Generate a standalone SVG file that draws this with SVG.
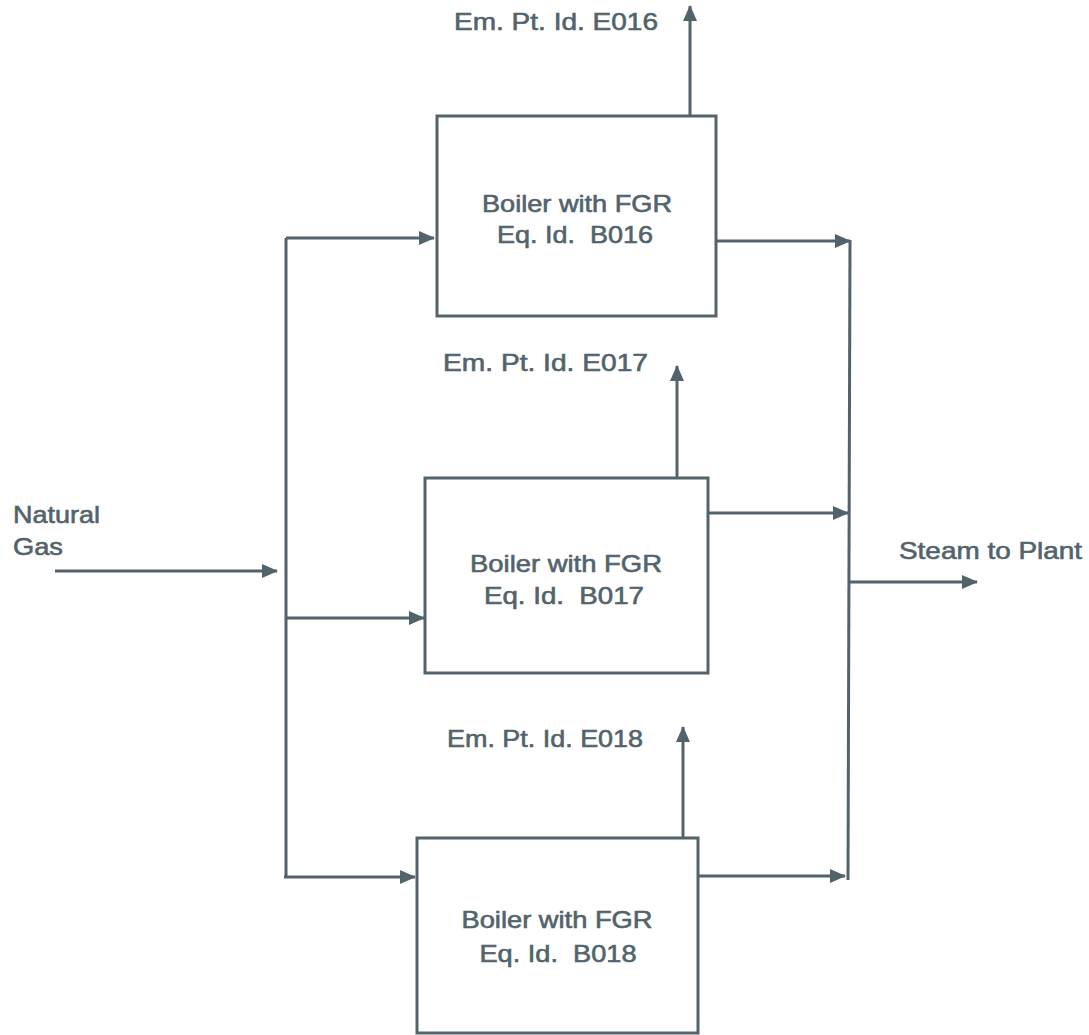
<svg xmlns="http://www.w3.org/2000/svg" width="1089" height="1035" viewBox="0 0 1089 1035">
<defs>
<marker id="ah" viewBox="0 0 16 14" refX="15" refY="7" markerWidth="16" markerHeight="14" markerUnits="userSpaceOnUse" orient="auto">
<path d="M0,0 L16,7 L0,14 Z" fill="#52636b"/>
</marker>
<style>
.box{fill:#fff;stroke:#52636b;stroke-width:3}
.ln{fill:none;stroke:#52636b;stroke-width:3}
.ar{fill:none;stroke:#52636b;stroke-width:3;marker-end:url(#ah)}
text{font-family:"Liberation Sans",Arial,sans-serif;font-size:24px;fill:#52636b;stroke:#52636b;stroke-width:0.6}
.c{text-anchor:middle}
</style>
</defs>
<rect width="1089" height="1035" fill="#fff"/>
<g id="connectors">
<line class="ar" x1="55" y1="571" x2="277" y2="571"/>
<line class="ln" x1="286" y1="238" x2="286" y2="877"/>
<line class="ar" x1="286" y1="238" x2="434" y2="238"/>
<line class="ar" x1="286" y1="618" x2="424" y2="618"/>
<line class="ar" x1="284" y1="877" x2="415" y2="877"/>
<line class="ln" x1="850" y1="240" x2="848" y2="880"/>
<line class="ar" x1="713" y1="241" x2="850" y2="241"/>
<line class="ar" x1="707" y1="513" x2="848" y2="513"/>
<line class="ar" x1="698" y1="876" x2="845" y2="876"/>
<line class="ar" x1="849" y1="582" x2="977" y2="582"/>
<line class="ar" x1="690" y1="115" x2="690" y2="6"/>
<line class="ar" x1="677" y1="478" x2="677" y2="366"/>
<line class="ar" x1="683" y1="838" x2="683" y2="727"/>
</g>
<g id="B016">
<rect class="box" x="437" y="116" width="279" height="200"/>
<text class="c" x="577" y="212" textLength="190" lengthAdjust="spacingAndGlyphs">Boiler with FGR</text>
<text class="c" x="575" y="243" textLength="156" lengthAdjust="spacingAndGlyphs" xml:space="preserve">Eq. Id.  B016</text>
</g>
<g id="B017">
<rect class="box" x="425" y="478" width="283" height="195"/>
<text class="c" x="566" y="572" textLength="192" lengthAdjust="spacingAndGlyphs">Boiler with FGR</text>
<text class="c" x="564" y="604" textLength="160" lengthAdjust="spacingAndGlyphs" xml:space="preserve">Eq. Id.  B017</text>
</g>
<g id="B018">
<rect class="box" x="417" y="838" width="281" height="195"/>
<text class="c" x="557" y="928" textLength="191" lengthAdjust="spacingAndGlyphs">Boiler with FGR</text>
<text class="c" x="558" y="962" textLength="157" lengthAdjust="spacingAndGlyphs" xml:space="preserve">Eq. Id.  B018</text>
</g>
<g id="E016"><text x="454" y="30" textLength="204" lengthAdjust="spacingAndGlyphs">Em. Pt. Id. E016</text></g>
<g id="E017"><text x="443" y="371" textLength="205" lengthAdjust="spacingAndGlyphs">Em. Pt. Id. E017</text></g>
<g id="E018"><text x="447" y="747" textLength="196" lengthAdjust="spacingAndGlyphs">Em. Pt. Id. E018</text></g>
<g id="natural-gas">
<text x="13" y="523" textLength="87" lengthAdjust="spacingAndGlyphs">Natural</text>
<text x="13" y="555" textLength="50" lengthAdjust="spacingAndGlyphs">Gas</text>
</g>
<g id="steam"><text x="899" y="559" textLength="183" lengthAdjust="spacingAndGlyphs">Steam to Plant</text></g>
</svg>
